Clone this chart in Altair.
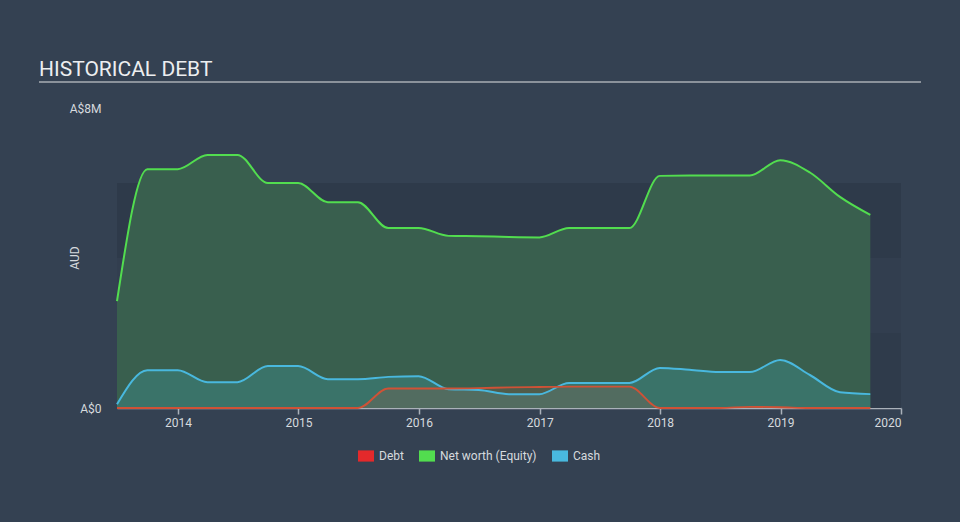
import altair as alt
import pandas as pd

# ---- data (values in AUD) ----
dates = [
    "2013-06-30", "2013-09-30", "2013-12-31", "2014-03-31", "2014-06-30",
    "2014-09-30", "2014-12-31", "2015-03-31", "2015-06-30", "2015-09-30",
    "2015-12-31", "2016-03-31", "2016-06-30", "2016-09-30", "2016-12-31",
    "2017-03-31", "2017-06-30", "2017-09-30", "2017-12-31", "2018-03-31",
    "2018-06-30", "2018-09-30", "2018-12-31", "2019-03-31", "2019-06-30",
    "2019-09-30",
]
net_worth = [
    2.85, 6.37, 6.37, 6.75, 6.75,
    6.00, 6.00, 5.49, 5.49, 4.80,
    4.80, 4.59, 4.58, 4.56, 4.55,
    4.80, 4.80, 4.80, 6.19, 6.20,
    6.20, 6.20, 6.61, 6.28, 5.63,
    5.15,
]
cash = [
    0.10, 1.01, 1.01, 0.69, 0.69,
    1.12, 1.12, 0.77, 0.77, 0.83,
    0.85, 0.50, 0.48, 0.37, 0.37,
    0.67, 0.67, 0.67, 1.07, 1.02,
    0.96, 0.96, 1.28, 0.88, 0.42,
    0.37,
]
debt = [
    0.0, 0.0, 0.0, 0.0, 0.0,
    0.0, 0.0, 0.0, 0.0, 0.52,
    0.52, 0.52, 0.53, 0.55, 0.56,
    0.57, 0.57, 0.57, 0.0, 0.0,
    0.0, 0.03, 0.02, 0.0, 0.0,
    0.0,
]
series_names = ["Debt", "Net worth (Equity)", "Cash"]
legend_colors = ["#e4292b", "#52dd4f", "#49b8de"]
year_ticks = [2014, 2015, 2016, 2017, 2018, 2019, 2020]
y_tick_values = [0, 8000000]
y_tick_labels = ["A$0", "A$8M"]
bands_lo = [0, 2000000, 4000000]
bands_hi = [2000000, 4000000, 6000000]
bands_col = ["#2f3b4b", "#323e4f", "#2e3a4a"]

M = 1_000_000
wide = pd.DataFrame({
    "date": [d + "T00:00:00" for d in dates],
    "nw": [v * M for v in net_worth],
    "cash": [v * M for v in cash],
    "debt": [v * M for v in debt],
})
bands = pd.DataFrame({"lo": bands_lo, "hi": bands_hi, "col": bands_col})

W, H = 784, 300
FONT = "Roboto"
TXT = "#d6dade"

xscale = alt.Scale(domain=[alt.DateTime(year=2013, month=6, date=30),
                           alt.DateTime(year=2020, month=1, date=1)])
yscale = alt.Scale(domain=[0, 8 * M])

x_axis = alt.Axis(
    values=[alt.DateTime(year=y, month=1, date=1) for y in year_ticks],
    format="%Y", title=None, grid=False, domainColor="#aab1ba", domainWidth=1.5,
    tickColor="#aab1ba", tickSize=6, tickWidth=1.5, labelColor=TXT, labelFontSize=12,
    labelFont=FONT, labelPadding=3,
)
label_expr = "datum.value == 0 ? '%s' : '%s'" % (y_tick_labels[0], y_tick_labels[1])
y_axis = alt.Axis(
    values=y_tick_values, labelExpr=label_expr, title=None, grid=False,
    domain=False, ticks=False, labelPadding=16, labelColor=TXT, labelFontSize=12,
    labelFont=FONT, labelBaseline="middle",
)

band_layer = alt.Chart(bands).mark_rect().encode(
    x=alt.value(0), x2=alt.value(W),
    y=alt.Y("lo:Q", scale=yscale, axis=y_axis), y2="hi:Q",
    color=alt.Color("col:N", scale=None),
)

base = alt.Chart(wide)


def area(field, color, opacity=1.0):
    return base.mark_area(interpolate="monotone", color=color, opacity=opacity).encode(
        x=alt.X("date:T", scale=xscale, axis=x_axis),
        y=alt.Y(field + ":Q", scale=yscale, axis=y_axis),
    )


def line(field, color, width=2.0):
    return base.mark_line(interpolate="monotone", color=color, strokeWidth=width).encode(
        x=alt.X("date:T", scale=xscale, axis=x_axis),
        y=alt.Y(field + ":Q", scale=yscale, axis=y_axis),
    )


nw_area = area("nw", "#395f4e")
cash_area = area("cash", "#3a7369")
debt_area = area("debt", "#b5503a", 0.2)
nw_line = line("nw", "#52dd4f")
cash_line = line("cash", "#49b8de")
debt_line = line("debt", "#cf5236", 1.8)

legend_src = pd.DataFrame({"name": series_names})
legend_layer = alt.Chart(legend_src).mark_square(opacity=0).encode(
    x=alt.value(0), y=alt.value(0),
    color=alt.Color(
        "name:N",
        scale=alt.Scale(domain=series_names, range=legend_colors),
        legend=alt.Legend(
            title=None, orient="none", direction="horizontal",
            legendX=241, legendY=340,
            symbolType="M-1,-0.7H1V0.7H-1Z", symbolSize=256,
            symbolStrokeWidth=0, symbolOpacity=1,
            labelColor=TXT, labelFontSize=12, labelFont=FONT,
            labelOffset=5, columnPadding=15,
        ),
    ),
)

title_layer = alt.Chart(alt.Data(values=[{"t": "HISTORICAL DEBT"}])).mark_text(
    align="left", baseline="alphabetic", fontSize=21, font=FONT, color="#eceef0",
).encode(x=alt.value(-78), y=alt.value(-32), text="t:N")

underline = alt.Chart(alt.Data(values=[{"a": 1}])).mark_rule(
    color="#a9aeb5", strokeWidth=1.5
).encode(x=alt.value(-78), x2=alt.value(804), y=alt.value(-26))

aud = alt.Chart(alt.Data(values=[{"t": "AUD"}])).mark_text(
    angle=270, align="center", baseline="middle", fontSize=12, font=FONT, color=TXT,
).encode(x=alt.value(-42), y=alt.value(150), text="t:N")

chart = alt.layer(
    band_layer, nw_area, cash_area, debt_area, nw_line, cash_line, debt_line,
    legend_layer, title_layer, underline, aud
).properties(
    width=W, height=H,
    autosize=alt.AutoSizeParams(type="none"),
    padding={"left": 117, "top": 108, "right": 59, "bottom": 114},
    background="#344152",
).configure_view(stroke=None)

chart.save("out.html", embed_options={"renderer": "svg", "actions": False})
